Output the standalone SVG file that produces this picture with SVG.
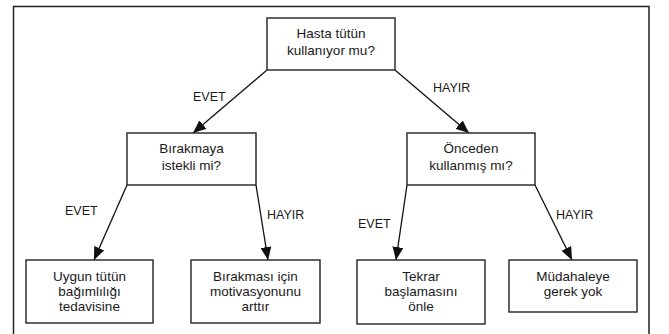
<svg xmlns="http://www.w3.org/2000/svg" width="669" height="334" viewBox="0 0 669 334">
<style>
.box{fill:#fff;stroke:#222;stroke-width:1.4}
.t{font-family:"Liberation Sans",Arial,sans-serif;font-size:13.5px;fill:#1a1a1a;text-anchor:middle}
.lbl{font-family:"Liberation Sans",Arial,sans-serif;font-size:12.5px;fill:#1a1a1a}
.edge{stroke:#111;stroke-width:1.3;fill:none;marker-end:url(#arr)}
.frame{fill:none;stroke:#222;stroke-width:1.5}
</style>
<defs>
<marker id="arr" markerUnits="userSpaceOnUse" markerWidth="13" markerHeight="11" refX="13" refY="5.5" orient="auto">
<path d="M0,0 L13,5.5 L0,11 z" fill="#111"/>
</marker>
</defs>
<rect width="669" height="334" fill="#fff"/>
<path class="frame" d="M13.5,334 V6.5 H649 V334"/>
<g id="connectors">
<line class="edge" x1="267" y1="70" x2="193" y2="133"/>
<line class="edge" x1="395" y1="70" x2="469" y2="133"/>
<line class="edge" x1="127" y1="185" x2="94" y2="260"/>
<line class="edge" x1="256" y1="185" x2="268" y2="260"/>
<line class="edge" x1="407" y1="185" x2="396" y2="260"/>
<line class="edge" x1="535" y1="185" x2="572" y2="260"/>
<text class="lbl" x="193" y="101">EVET</text>
<text class="lbl" x="433" y="92">HAYIR</text>
<text class="lbl" x="65" y="215">EVET</text>
<text class="lbl" x="267" y="219">HAYIR</text>
<text class="lbl" x="358" y="228">EVET</text>
<text class="lbl" x="556" y="219">HAYIR</text>
</g>
<g id="n_root">
<rect class="box" x="267" y="18" width="128" height="52"/>
<text class="t" x="331" y="38">Hasta tütün</text>
<text class="t" x="331" y="55">kullanıyor mu?</text>
</g>
<g id="n_istekli">
<rect class="box" x="127" y="133" width="129" height="52"/>
<text class="t" x="191.5" y="153">Bırakmaya</text>
<text class="t" x="191.5" y="170">istekli mi?</text>
</g>
<g id="n_onceden">
<rect class="box" x="407" y="133" width="128" height="52"/>
<text class="t" x="471" y="153">Önceden</text>
<text class="t" x="471" y="170">kullanmış mı?</text>
</g>
<g id="n_tedavi">
<rect class="box" x="26" y="260" width="127" height="63"/>
<text class="t" x="89.5" y="281">Uygun tütün</text>
<text class="t" x="89.5" y="296">bağımlılığı</text>
<text class="t" x="89.5" y="311">tedavisine</text>
</g>
<g id="n_motivasyon">
<rect class="box" x="191" y="260" width="129" height="63"/>
<text class="t" x="255.5" y="281">Bırakması için</text>
<text class="t" x="255.5" y="296">motivasyonunu</text>
<text class="t" x="255.5" y="311">arttır</text>
</g>
<g id="n_tekrar">
<rect class="box" x="357" y="260" width="128" height="64"/>
<text class="t" x="421" y="281">Tekrar</text>
<text class="t" x="421" y="296">başlamasını</text>
<text class="t" x="421" y="311">önle</text>
</g>
<g id="n_mudahale">
<rect class="box" x="509" y="260" width="128" height="52"/>
<text class="t" x="573" y="281">Müdahaleye</text>
<text class="t" x="573" y="296">gerek yok</text>
</g>
</svg>
